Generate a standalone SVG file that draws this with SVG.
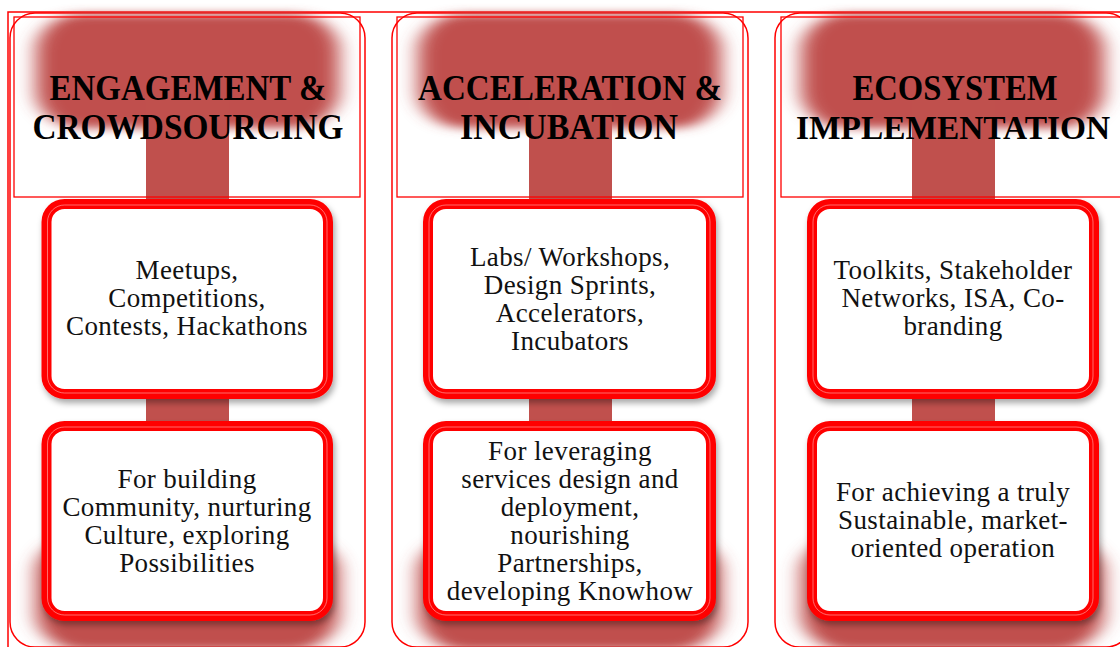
<svg xmlns="http://www.w3.org/2000/svg" width="1120" height="647" viewBox="0 0 1120 647">
<defs>
<style>
.frame{fill:none;stroke:#FF0000;stroke-width:1.5}
.col{fill:none;stroke:#FF0000;stroke-width:1.5}
.hdr{fill:none;stroke:#FF0000;stroke-width:1.3}
.bar{fill:#C0504D}
.stem{fill:#C0504D}
.box{fill:#FFFFFF;stroke:#FF0000;stroke-width:10}
.hl{fill:none;stroke:#FFC0C0;stroke-width:0.8;opacity:0.7}
.ht{font-family:"Liberation Serif","Times New Roman",serif;font-weight:bold;font-size:36px;fill:#000;text-anchor:middle}
.bt{font-family:"Liberation Serif","Times New Roman",serif;font-size:27px;fill:#111;text-anchor:middle;letter-spacing:0.4px}
</style>
<filter id="soft" x="-20%" y="-40%" width="140%" height="180%">
<feGaussianBlur stdDeviation="10 5"/>
</filter>
<filter id="shadow" x="-10%" y="-10%" width="125%" height="130%">
<feDropShadow dx="2" dy="4" stdDeviation="3" flood-color="#000" flood-opacity="0.35"/>
</filter>
</defs>
<rect width="1120" height="647" fill="#FFFFFF"/>
<g id="frame">
<path class="frame" d="M8,647 V12 H1120"/>
</g>
<g id="backgrounds">
<rect class="col" x="10" y="13" width="355" height="634" rx="25"/>
<rect class="col" x="392" y="13" width="356" height="634" rx="25"/>
<rect class="col" x="775" y="13" width="356" height="634" rx="25"/>
<g filter="url(#soft)">
<rect class="bar" x="36" y="14" width="303" height="114" rx="45" ry="38"/>
<rect class="bar" x="418" y="14" width="303" height="114" rx="45" ry="38"/>
<rect class="bar" x="801" y="14" width="303" height="114" rx="45" ry="38"/>
<rect class="bar" x="36" y="536" width="303" height="114" rx="45" ry="38"/>
<rect class="bar" x="418" y="536" width="303" height="114" rx="45" ry="38"/>
<rect class="bar" x="801" y="536" width="303" height="114" rx="45" ry="38"/>
</g>
</g>
<g id="connectors">
<rect class="stem" x="146" y="100" width="83" height="470"/>
<rect class="stem" x="529" y="100" width="83" height="470"/>
<rect class="stem" x="912" y="100" width="83" height="470"/>
</g>
<g id="header1">
<rect class="hdr" x="14" y="17" width="346" height="180"/>
<text class="ht" x="188" y="100" textLength="277" lengthAdjust="spacingAndGlyphs">ENGAGEMENT &amp;</text>
<text class="ht" x="188" y="139" textLength="311" lengthAdjust="spacingAndGlyphs">CROWDSOURCING</text>
</g>
<g id="header2">
<rect class="hdr" x="397" y="17" width="346" height="180"/>
<text class="ht" x="570" y="100" textLength="304" lengthAdjust="spacingAndGlyphs">ACCELERATION &amp;</text>
<text class="ht" x="569" y="139" textLength="218" lengthAdjust="spacingAndGlyphs">INCUBATION</text>
</g>
<g id="header3">
<rect class="hdr" x="781" y="17" width="346" height="180"/>
<text class="ht" x="955" y="100" textLength="205" lengthAdjust="spacingAndGlyphs">ECOSYSTEM</text>
<text class="ht" x="953" y="139" font-size="34.5" textLength="314" lengthAdjust="spacingAndGlyphs" style="font-size:34.5px">IMPLEMENTATION</text>
</g>
<g id="box1a">
<rect class="box" x="46.5" y="204" width="281.5" height="190" rx="18" filter="url(#shadow)"/>
<rect class="hl" x="47.5" y="205" width="279.5" height="188" rx="17"/>
<text class="bt" x="187" y="279">Meetups,</text>
<text class="bt" x="187" y="307">Competitions,</text>
<text class="bt" x="187" y="335">Contests, Hackathons</text>
</g>
<g id="box1b">
<rect class="box" x="46.5" y="426" width="281.5" height="190" rx="18" filter="url(#shadow)"/>
<rect class="hl" x="47.5" y="427" width="279.5" height="188" rx="17"/>
<text class="bt" x="187" y="488">For building</text>
<text class="bt" x="187" y="516">Community, nurturing</text>
<text class="bt" x="187" y="544">Culture, exploring</text>
<text class="bt" x="187" y="572">Possibilities</text>
</g>
<g id="box2a">
<rect class="box" x="428" y="204" width="283" height="190" rx="18" filter="url(#shadow)"/>
<rect class="hl" x="429" y="205" width="281" height="188" rx="17"/>
<text class="bt" x="570" y="266">Labs/ Workshops,</text>
<text class="bt" x="570" y="294">Design Sprints,</text>
<text class="bt" x="570" y="322">Accelerators,</text>
<text class="bt" x="570" y="350">Incubators</text>
</g>
<g id="box2b">
<rect class="box" x="428" y="426" width="283" height="190" rx="18" filter="url(#shadow)"/>
<rect class="hl" x="429" y="427" width="281" height="188" rx="17"/>
<text class="bt" x="570" y="460">For leveraging</text>
<text class="bt" x="570" y="488">services design and</text>
<text class="bt" x="570" y="516">deployment,</text>
<text class="bt" x="570" y="544">nourishing</text>
<text class="bt" x="570" y="572">Partnerships,</text>
<text class="bt" x="570" y="600">developing Knowhow</text>
</g>
<g id="box3a">
<rect class="box" x="812" y="204" width="282" height="190" rx="18" filter="url(#shadow)"/>
<rect class="hl" x="813" y="205" width="280" height="188" rx="17"/>
<text class="bt" x="953" y="279">Toolkits, Stakeholder</text>
<text class="bt" x="953" y="307">Networks, ISA, Co-</text>
<text class="bt" x="953" y="335">branding</text>
</g>
<g id="box3b">
<rect class="box" x="812" y="426" width="282" height="190" rx="18" filter="url(#shadow)"/>
<rect class="hl" x="813" y="427" width="280" height="188" rx="17"/>
<text class="bt" x="953" y="501">For achieving a truly</text>
<text class="bt" x="953" y="529">Sustainable, market-</text>
<text class="bt" x="953" y="557">oriented operation</text>
</g>
</svg>
